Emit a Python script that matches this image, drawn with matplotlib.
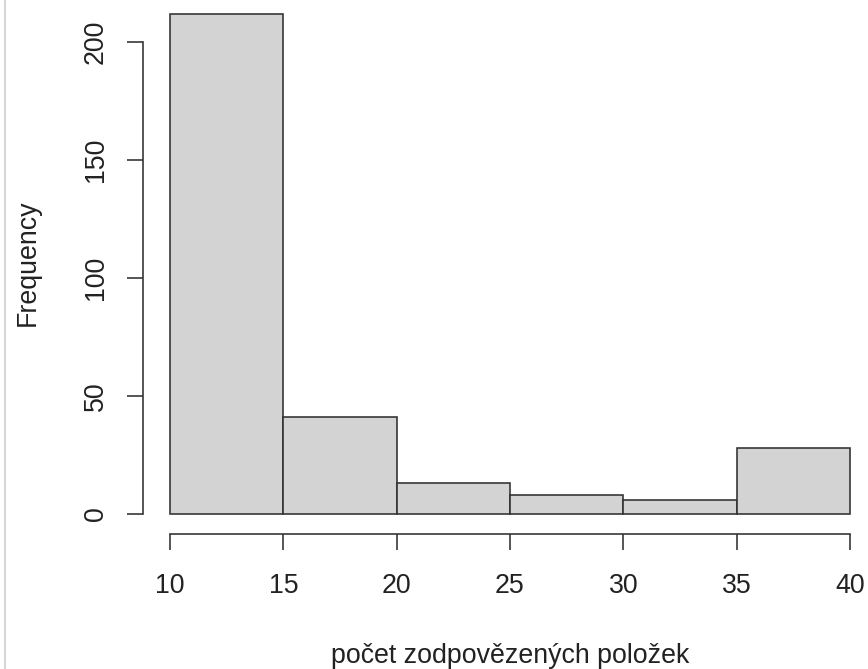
import matplotlib.pyplot as plt
import numpy as np
from matplotlib.lines import Line2D

# histogram of answered items (R base hist look)
bin_edges = [10, 15, 20, 25, 30, 35, 40]
counts = [212, 41, 13, 8, 6, 28]
x_ticks = [10, 15, 20, 25, 30, 35, 40]
y_ticks = [0, 50, 100, 150, 200]
x_label = 'počet zodpovězených položek'
y_label = 'Frequency'

W, H, DPI = 868, 669, 100
px = 72 / DPI  # points per pixel

plt.rcParams['font.family'] = ['Liberation Sans', 'DejaVu Sans']
line_col = '#303030'
text_col = '#222222'
fs = 19.3

fig = plt.figure(figsize=(W / DPI, H / DPI), dpi=DPI)
fig.patch.set_facecolor('white')

# axes region in pixels (R usr region, cropped by the screenshot)
left, right, bottom, top = 142.8, 877.2, 534, -6
ax = fig.add_axes([left / W, 1 - bottom / H, (right - left) / W, (bottom - top) / H])

edges = np.array(bin_edges)
ax.bar(edges[:-1], counts, width=np.diff(edges), align='edge',
       facecolor='#d3d3d3', edgecolor=line_col, linewidth=1.6 * px)

xr = edges[-1] - edges[0]
ax.set_xlim(edges[0] - 0.04 * xr, edges[-1] + 0.04 * xr)
ax.set_ylim(-0.04 * max(counts), max(counts) * 1.04)

for s in ['top', 'right']:
    ax.spines[s].set_visible(False)
for s in ['left', 'bottom']:
    ax.spines[s].set_color(line_col)
    ax.spines[s].set_linewidth(1.6 * px)
ax.spines['left'].set_bounds(y_ticks[0], y_ticks[-1])
ax.spines['bottom'].set_bounds(x_ticks[0], x_ticks[-1])

ax.set_xticks(x_ticks)
ax.set_yticks(y_ticks)
ax.tick_params(axis='both', direction='out', length=16 * px, width=1.6 * px,
               color=line_col, labelcolor=text_col, labelsize=fs)
ax.tick_params(axis='x', pad=23 * px)
ax.tick_params(axis='y', pad=18 * px)
for lab in ax.get_yticklabels():
    lab.set_rotation(90)
    lab.set_va('center')

fig.text(510 / W, 1 - 663 / H, x_label, ha='center', va='baseline',
         fontsize=fs, color=text_col)
fig.text(35 / W, 1 - 262.5 / H, y_label, ha='center', va='baseline',
         rotation=90, rotation_mode='anchor', fontsize=fs, color=text_col)

# grey border line at the left edge of the screenshot
fig.add_artist(Line2D([5 / W, 5 / W], [0, 1], transform=fig.transFigure,
                      color='#c8c8c8', linewidth=1.5 * px))

fig.savefig('out.png', dpi=DPI)
